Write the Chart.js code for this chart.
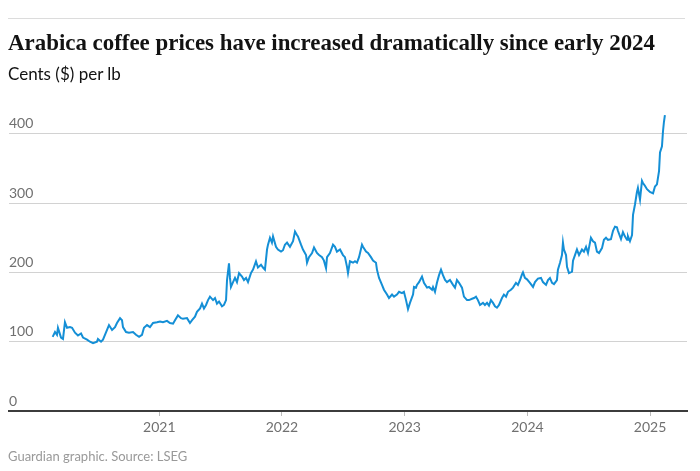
<!DOCTYPE html>
<html>
<head>
<meta charset="utf-8">
<script src="https://cdn.jsdelivr.net/npm/chart.js@4.4.1/dist/chart.umd.min.js"></script>
<style>
    body { margin: 0; width: 700px; height: 471px; background: #fff; position: relative; overflow: hidden; }
    #rule { position: absolute; left: 8px; top: 18px; width: 677px; height: 1px; background: #dcdcdc; }
    #titolo { position: absolute; left: 8px; top: 30px; font: bold 24px/24px "Liberation Serif", serif; color: #121212; white-space: nowrap; transform-origin: left top; }
    #sottotitolo { position: absolute; left: 8px; top: 65px; font: 17px/17px Lato, sans-serif; color: #121212; white-space: nowrap; }
    #fonte { position: absolute; left: 8px; top: 450px; font: 13px/13px Lato, sans-serif; color: #999; white-space: nowrap; }
    canvas { position: absolute; left: 0; top: 0; }
</style>
</head>
<body>
<canvas id="caffeChart" width="700" height="471"></canvas>
<div id="rule"></div>
<span id="titolo">Arabica coffee prices have increased dramatically since early 2024</span>
<div id="sottotitolo">Cents ($) per lb</div>
<div id="fonte">Guardian graphic. Source: LSEG</div>
<script>
// date in anni decimali, prezzi in centesimi per libbra
const date2020 = [2020.131, 2020.150, 2020.166, 2020.174, 2020.199, 2020.215, 2020.231, 2020.248, 2020.272, 2020.289,
    2020.313, 2020.337, 2020.362, 2020.378, 2020.411, 2020.435, 2020.460, 2020.492, 2020.500, 2020.525,
    2020.541, 2020.574, 2020.590, 2020.615, 2020.639, 2020.655, 2020.680, 2020.696, 2020.704, 2020.729,
    2020.753, 2020.786, 2020.810, 2020.835, 2020.859, 2020.875, 2020.900, 2020.924, 2020.949, 2020.981];
const prezzi2020 = [107, 114, 110, 120, 106, 104, 128, 120, 121, 120,
    113, 109, 112, 106, 103, 100, 98, 100, 104, 100,
    103, 117, 124, 117, 121, 127, 134, 131, 121, 114,
    113, 114, 110, 107, 110, 120, 124, 121, 127, 128];

const date2021 = [2021.006, 2021.030, 2021.063, 2021.087, 2021.112, 2021.128, 2021.152, 2021.177, 2021.193, 2021.226,
    2021.250, 2021.267, 2021.291, 2021.307, 2021.332, 2021.348, 2021.364, 2021.381, 2021.397, 2021.413,
    2021.438, 2021.454, 2021.470, 2021.487, 2021.511, 2021.527, 2021.544, 2021.552, 2021.568, 2021.576,
    2021.584, 2021.601, 2021.617, 2021.633, 2021.650, 2021.674, 2021.690, 2021.707, 2021.723, 2021.747,
    2021.764, 2021.788, 2021.804, 2021.829, 2021.845, 2021.861, 2021.878, 2021.886, 2021.902, 2021.918,
    2021.927, 2021.951, 2021.967, 2021.992];
const prezzi2021 = [129, 128, 130, 127, 126, 131, 138, 134, 133, 134,
    127, 131, 136, 143, 148, 155, 148, 153, 160, 165,
    160, 163, 155, 158, 151, 153, 160, 189, 213, 192,
    179, 186, 192, 186, 199, 194, 189, 192, 186, 199,
    204, 216, 207, 211, 207, 204, 233, 240, 250, 243,
    252, 237, 233, 230];

const date2022 = [2022.008, 2022.024, 2022.041, 2022.065, 2022.090, 2022.106, 2022.122, 2022.130, 2022.155, 2022.171,
    2022.196, 2022.204, 2022.220, 2022.245, 2022.261, 2022.285, 2022.302, 2022.326, 2022.342, 2022.359,
    2022.367, 2022.391, 2022.416, 2022.432, 2022.448, 2022.473, 2022.497, 2022.513, 2022.530, 2022.538,
    2022.554, 2022.579, 2022.595, 2022.611, 2022.628, 2022.652, 2022.660, 2022.685, 2022.701, 2022.725,
    2022.742, 2022.766, 2022.774, 2022.791, 2022.815, 2022.831, 2022.856, 2022.872, 2022.897, 2022.913,
    2022.937, 2022.954, 2022.978, 2022.994];
const prezzi2022 = [232, 240, 243, 237, 245, 259, 254, 252, 240, 233,
    225, 214, 222, 228, 236, 228, 225, 222, 217, 206,
    222, 228, 240, 237, 230, 233, 225, 222, 208, 199,
    216, 214, 216, 214, 222, 240, 237, 230, 228, 222,
    217, 214, 204, 192, 182, 175, 168, 163, 168, 165,
    168, 172, 170, 172];

const date2023 = [2023.011, 2023.027, 2023.043, 2023.068, 2023.076, 2023.092, 2023.100, 2023.117, 2023.141, 2023.157,
    2023.182, 2023.198, 2023.223, 2023.231, 2023.247, 2023.263, 2023.280, 2023.296, 2023.312, 2023.329,
    2023.345, 2023.369, 2023.394, 2023.410, 2023.426, 2023.443, 2023.467, 2023.483, 2023.508, 2023.524,
    2023.549, 2023.565, 2023.581, 2023.597, 2023.614, 2023.638, 2023.654, 2023.671, 2023.687, 2023.703,
    2023.720, 2023.736, 2023.752, 2023.769, 2023.793, 2023.809, 2023.826, 2023.842, 2023.866, 2023.883,
    2023.907, 2023.923, 2023.940, 2023.956, 2023.964, 2023.980, 2023.997];
const prezzi2023 = [160, 147, 156, 168, 179, 178, 182, 186, 194, 185,
    178, 179, 175, 179, 172, 185, 196, 204, 196, 189,
    186, 189, 182, 178, 189, 185, 178, 165, 160, 160,
    162, 163, 165, 160, 153, 156, 153, 156, 152, 160,
    156, 151, 149, 153, 163, 168, 165, 172, 175, 178,
    185, 182, 189, 197, 200, 192, 190];

const date2024 = [2024.021, 2024.046, 2024.062, 2024.086, 2024.111, 2024.127, 2024.152, 2024.168, 2024.184, 2024.201,
    2024.217, 2024.241, 2024.249, 2024.266, 2024.282, 2024.290, 2024.298, 2024.315, 2024.323, 2024.339,
    2024.364, 2024.372, 2024.388, 2024.404, 2024.421, 2024.445, 2024.461, 2024.478, 2024.494, 2024.518,
    2024.535, 2024.551, 2024.567, 2024.584, 2024.608, 2024.624, 2024.641, 2024.657, 2024.681, 2024.698,
    2024.714, 2024.730, 2024.738, 2024.763, 2024.779, 2024.795, 2024.812, 2024.820, 2024.836, 2024.853,
    2024.861, 2024.877, 2024.893, 2024.901, 2024.918, 2024.934, 2024.942, 2024.958, 2024.975, 2024.999];
const prezzi2024 = [185, 179, 186, 191, 192, 186, 182, 189, 192, 185,
    183, 189, 204, 214, 225, 243, 233, 225, 208, 199,
    201, 217, 225, 233, 225, 233, 230, 237, 228, 250,
    245, 243, 230, 228, 235, 247, 250, 247, 248, 260,
    266, 265, 260, 248, 258, 252, 247, 252, 245, 254,
    283, 298, 316, 322, 305, 332, 329, 325, 320, 316];

const date2025 = [2025.024, 2025.040, 2025.056, 2025.073, 2025.081, 2025.097, 2025.105, 2025.113, 2025.121];
const prezzi2025 = [314, 324, 327, 346, 373, 382, 403, 417, 427];

const anniAsse = [2021, 2022, 2023, 2024, 2025];
const valoriAsse = [0, 100, 200, 300, 400];

const date = [].concat(date2020, date2021, date2022, date2023, date2024, date2025);
const prezzi = [].concat(prezzi2020, prezzi2021, prezzi2022, prezzi2023, prezzi2024, prezzi2025);
const punti = date.map((d, i) => ({ x: d, y: prezzi[i] }));

const fontAssi = { family: 'Lato, sans-serif', size: 14 };

const ctx = document.getElementById('caffeChart').getContext('2d');
const caffeChart = new Chart(ctx, {
    type: 'line',
    data: {
        datasets: [{
            label: 'Arabica',
            data: punti,
            borderColor: '#148fd6',
            borderWidth: 2,
            pointRadius: 0,
            tension: 0
        }]
    },
    options: {
        responsive: false,
        animation: false,
        layout: { padding: { left: 9, right: 13, top: 113, bottom: 26 } },
        plugins: {
            legend: { display: false },
            tooltip: { enabled: false }
        },
        scales: {
            x: {
                type: 'linear',
                min: 2019.775,
                max: 2025.301,
                afterBuildTicks: (scale) => { scale.ticks = anniAsse.map(v => ({ value: v })); },
                afterFit: (scale) => { scale.height = 34; },
                grid: { drawOnChartArea: false, drawTicks: true, tickLength: 5, tickColor: '#bbb' },
                border: { color: '#3c3c3c', width: 2 },
                ticks: {
                    color: '#707070',
                    font: fontAssi,
                    padding: 3,
                    maxRotation: 0,
                    callback: (v) => String(v)
                }
            },
            y: {
                min: 0,
                max: 430,
                afterBuildTicks: (scale) => { scale.ticks = valoriAsse.map(v => ({ value: v })); },
                afterFit: (scale) => { scale.width = 0; },
                grid: {
                    drawTicks: false,
                    color: (c) => c.tick && c.tick.value === 0 ? 'rgba(0,0,0,0)' : '#d2d2d2'
                },
                border: { display: false },
                ticks: {
                    mirror: true,
                    padding: 0,
                    labelOffset: -10,
                    color: '#707070',
                    font: fontAssi
                }
            }
        }
    }
});

// adatta la larghezza del titolo
const titolo = document.getElementById('titolo');
const larghezza = titolo.getBoundingClientRect().width;
titolo.style.transform = 'scaleX(' + (647 / larghezza) + ')';
</script>
</body>
</html>
